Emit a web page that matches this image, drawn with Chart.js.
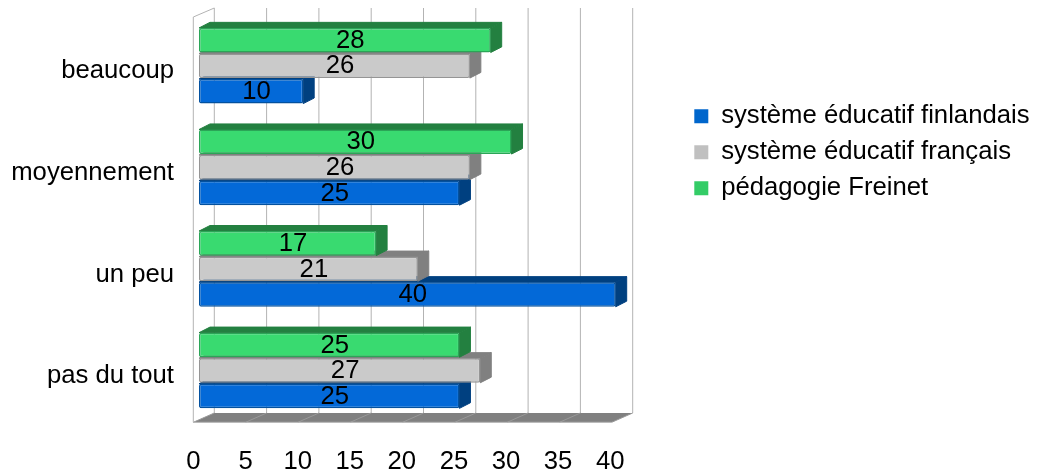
<!DOCTYPE html>
<html>
<head>
<meta charset="utf-8">
<style>
  html, body { margin: 0; padding: 0; background: #fff; }
  canvas { display: block; }
</style>
<script src="https://cdn.jsdelivr.net/npm/chart.js@4/dist/chart.umd.min.js"></script>
</head>
<body>
<canvas id="myChart" width="1038" height="474"></canvas>
<script>
// data, top category and top bar first
const categories = ["beaucoup", "moyennement", "un peu", "pas du tout"];
const freinet = [28, 30, 17, 25];
const francais = [26, 26, 21, 27];
const finlandais = [10, 25, 40, 25];
const seriesNames = ["pédagogie Freinet", "système éducatif français", "système éducatif finlandais"];
const legendColors = ["#33cc66", "#c0c0c0", "#0066cc"];
const faceColors = ["#39da70", "#cacaca", "#0369d8"];
const edgeColors = ["#2ba557", "#959595", "#03519f"];
const sideColors = ["#238040", "#808080", "#004080"];
const xTicks = [0, 5, 10, 15, 20, 25, 30, 35, 40];

const FONT = "'Liberation Sans', Arial, sans-serif";
const FONT_SIZE = 25.7;
const depthX = 11;
const depthY = 5.6;

function poly(ctx, pts, fill, stroke) {
  ctx.beginPath();
  pts.forEach((p, i) => i ? ctx.lineTo(p[0], p[1]) : ctx.moveTo(p[0], p[1]));
  ctx.closePath();
  if (fill) { ctx.fillStyle = fill; ctx.fill(); }
  if (stroke) { ctx.strokeStyle = stroke; ctx.lineWidth = 1; ctx.lineJoin = "round"; ctx.stroke(); }
}

// walls, floor, grid and the bar sides that the library has no option for
const box3d = {
  id: "box3d",
  afterLayout(chart) {
    // legend sits right of the plot, not inside it
    const leg = chart.legend;
    const w = leg.width, h = leg.height;
    leg.left = 684;
    leg.right = 684 + w;
    leg.top = 93;
    leg.bottom = 93 + h;
  },
  beforeDatasetsDraw(chart) {
    const ctx = chart.ctx;
    const backX = v => 214.3 + v * 10.46;
    const frontX = v => 193.3 + v * 10.46;
    const backTop = 8, backBottom = 413, frontTop = 17, frontBottom = 422.3;

    ctx.save();
    poly(ctx, [[frontX(0), frontBottom], [frontX(40), frontBottom], [backX(40), backBottom], [backX(0), backBottom]], "#808080");
    ctx.lineWidth = 1;
    xTicks.forEach(v => {
      ctx.strokeStyle = "#b3b3b3";
      ctx.beginPath();
      ctx.moveTo(backX(v), backTop);
      ctx.lineTo(backX(v), backBottom);
      ctx.stroke();
      ctx.strokeStyle = "#999999";
      ctx.beginPath();
      ctx.moveTo(backX(v), backBottom);
      ctx.lineTo(frontX(v), frontBottom);
      ctx.stroke();
    });
    ctx.strokeStyle = "#b3b3b3";
    ctx.beginPath();
    ctx.moveTo(backX(0), backTop);
    ctx.lineTo(frontX(0), frontTop);
    ctx.lineTo(frontX(0), frontBottom);
    ctx.lineTo(frontX(40), frontBottom);
    ctx.stroke();

    // tops and sides, lowest bar first
    [2, 1, 0].forEach(d => {
      chart.getDatasetMeta(d).data.forEach(el => {
        const p = el.getProps(["x", "y", "base", "height"], true);
        const t = p.y - p.height / 2, b = p.y + p.height / 2;
        poly(ctx, [[p.base, t], [p.base + depthX, t - depthY], [p.x + depthX, t - depthY], [p.x, t]], sideColors[d], sideColors[d]);
        poly(ctx, [[p.x, t], [p.x + depthX, t - depthY], [p.x + depthX, b - depthY], [p.x, b]], sideColors[d], sideColors[d]);
      });
    });
    ctx.restore();
  },
  afterDatasetsDraw(chart) {
    const ctx = chart.ctx;
    ctx.save();
    ctx.fillStyle = "#000";
    ctx.font = FONT_SIZE + "px " + FONT;
    ctx.textAlign = "center";
    ctx.textBaseline = "middle";
    chart.data.datasets.forEach((ds, d) => {
      chart.getDatasetMeta(d).data.forEach((el, i) => {
        const p = el.getProps(["x", "y", "base"], true);
        ctx.fillText(ds.data[i], (p.base + p.x + depthX) / 2, p.y + 0.5);
      });
    });
    ctx.restore();
  }
};

const datasets = [freinet, francais, finlandais].map((values, i) => ({
  label: seriesNames[i],
  data: values,
  backgroundColor: faceColors[i],
  borderColor: edgeColors[i],
  borderWidth: 1.5,
  borderRadius: 2,
  borderSkipped: false,
  categoryPercentage: 0.755,
  barPercentage: 0.96
}));

new Chart(document.getElementById("myChart").getContext("2d"), {
  type: "bar",
  plugins: [box3d],
  data: { labels: categories, datasets },
  options: {
    indexAxis: "y",
    responsive: false,
    animation: false,
    layout: { padding: { top: 15, right: 422.3, left: 0, bottom: 0 } },
    scales: {
      x: {
        min: 0,
        max: 40,
        border: { display: false },
        grid: { display: false, drawTicks: false },
        afterFit(scale) { scale.height = 52.7; },
        ticks: {
          stepSize: 5,
          maxRotation: 0,
          autoSkip: false,
          labelOffset: -5.5,
          padding: 25,
          color: "#000",
          font: { family: FONT, size: FONT_SIZE }
        }
      },
      y: {
        border: { display: false },
        grid: { display: false, drawTicks: false },
        afterFit(scale) {
          scale.width = 199;
          // tick padding would otherwise push the plot top down
          scale.paddingTop = 0;
          scale.paddingBottom = 0;
        },
        ticks: {
          padding: 25,
          labelOffset: 5.5,
          color: "#000",
          font: { family: FONT, size: FONT_SIZE }
        }
      }
    },
    plugins: {
      tooltip: { enabled: false },
      legend: {
        position: "chartArea",
        align: "start",
        reverse: true,
        labels: {
          boxWidth: 14,
          boxHeight: 14,
          padding: 10.3,
          color: "#000",
          font: { family: FONT, size: FONT_SIZE },
          generateLabels(chart) {
            return chart.data.datasets.map((ds, i) => ({
              text: ds.label,
              fillStyle: legendColors[i],
              strokeStyle: legendColors[i],
              lineWidth: 0,
              datasetIndex: i
            }));
          }
        }
      }
    }
  }
});
</script>
</body>
</html>
